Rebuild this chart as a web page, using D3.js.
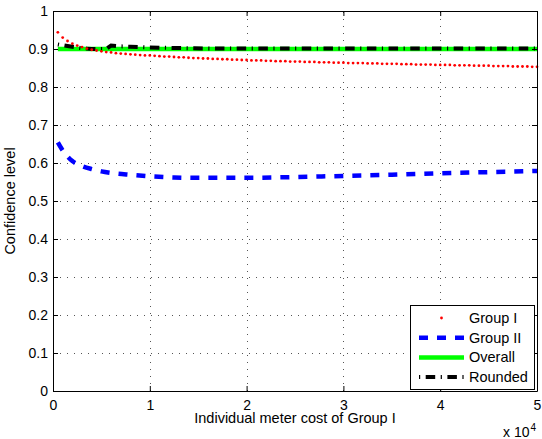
<!DOCTYPE html>
<html>
<head>
<meta charset="utf-8">
<script src="https://cdn.jsdelivr.net/npm/d3@7/dist/d3.min.js"></script>
<style>
  html, body { margin: 0; padding: 0; background: #fff; }
  svg { display: block; font-family: "Liberation Sans", Arial, Helvetica, sans-serif; }
  .axis text { font-size: 14px; fill: #000; }
  .axis path, .axis line { stroke: #000; }
</style>
</head>
<body>
<svg id="chart" width="542" height="439"></svg>
<script>
// Meter cost grid (Group I individual meter cost) used by the dotted series
const costs = d3.range(500, 50001, 500);

// Group I confidence level at each cost in `costs`
const groupI = [
  0.944, 0.930, 0.921, 0.914, 0.909, 0.905, 0.901, 0.898, 0.896, 0.894,
  0.892, 0.891, 0.889, 0.888, 0.887, 0.886, 0.885, 0.884, 0.883, 0.883,
  0.882, 0.881, 0.880, 0.880, 0.879, 0.878, 0.878, 0.877, 0.876, 0.876,
  0.875, 0.875, 0.874, 0.874, 0.873, 0.873, 0.872, 0.872, 0.871, 0.871,
  0.870, 0.870, 0.870, 0.869, 0.869, 0.868, 0.868, 0.868, 0.867, 0.867,
  0.867, 0.866, 0.866, 0.866, 0.865, 0.865, 0.865, 0.864, 0.864, 0.864,
  0.863, 0.863, 0.863, 0.863, 0.862, 0.862, 0.862, 0.861, 0.861, 0.861,
  0.861, 0.860, 0.860, 0.860, 0.859, 0.859, 0.859, 0.859, 0.858, 0.858,
  0.858, 0.858, 0.857, 0.857, 0.857, 0.857, 0.856, 0.856, 0.856, 0.856,
  0.855, 0.855, 0.855, 0.855, 0.854, 0.854, 0.854, 0.854, 0.853, 0.853
];

// Group II confidence level
const groupIICost = [500, 1000, 1500, 2000, 3000, 4000, 5000, 6000, 8000, 10000,
  12500, 15000, 17500, 20000, 25000, 30000, 35000, 40000, 45000, 50000];
const groupII = [0.654, 0.633, 0.617, 0.605, 0.592, 0.584, 0.578, 0.574, 0.569, 0.565,
  0.562, 0.561, 0.561, 0.561, 0.563, 0.566, 0.569, 0.573, 0.576, 0.579];

// Overall confidence level
const overallCost = [500, 50000];
const overall = [0.9, 0.9];

// Confidence level with rounded sample sizes
const roundedCost = [500, 1000, 1500, 2000, 2500, 3000, 3500, 4000, 4500, 5000, 5500,
  6000, 6500, 7000, 8000, 9000, 10000, 12000, 14000, 17000, 20000, 30000, 40000, 50000];
const rounded = [0.912, 0.910, 0.908, 0.906, 0.904, 0.902, 0.901, 0.900, 0.900, 0.900, 0.900,
  0.909, 0.908, 0.907, 0.906, 0.905, 0.904, 0.903, 0.902, 0.901, 0.901, 0.901, 0.901, 0.901];

// Axis ticks
const xTicks = [0, 10000, 20000, 30000, 40000, 50000];
const xTickLabels = ["0", "1", "2", "3", "4", "5"];
const yTicks = [0, 0.1, 0.2, 0.3, 0.4, 0.5, 0.6, 0.7, 0.8, 0.9, 1];
const yTickLabels = ["0", "0.1", "0.2", "0.3", "0.4", "0.5", "0.6", "0.7", "0.8", "0.9", "1"];

const legendNames = ["Group I", "Group II", "Overall", "Rounded"];

const svg = d3.select("#chart");
const plotL = 53, plotR = 537, plotT = 11, plotB = 391;

const x = d3.scaleLinear().domain([0, 50000]).range([plotL, plotR]);
const y = d3.scaleLinear().domain([0, 1]).range([plotB, plotT]);

// Dotted grid
const grid = svg.append("g").attr("shape-rendering", "crispEdges")
  .attr("stroke", "#555").attr("stroke-width", 1).attr("stroke-dasharray", "1,6");
grid.selectAll(".gx").data(xTicks.slice(1, -1)).join("line")
  .attr("x1", d => Math.round(x(d)) + 0.5).attr("x2", d => Math.round(x(d)) + 0.5)
  .attr("y1", plotB).attr("y2", plotT);
grid.selectAll(".gy").data(yTicks.slice(1, -1)).join("line")
  .attr("y1", d => Math.round(y(d)) + 0.5).attr("y2", d => Math.round(y(d)) + 0.5)
  .attr("x1", plotL).attr("x2", plotR);

// Series
const line = d3.line().x(d => x(d[0])).y(d => y(d[1]));
const smooth = d3.line().x(d => x(d[0])).y(d => y(d[1])).curve(d3.curveMonotoneX);

svg.append("path")
  .attr("d", line(d3.zip(overallCost, overall)))
  .attr("fill", "none").attr("stroke", "#00ff00").attr("stroke-width", 4.5);

svg.append("path")
  .attr("d", line(d3.zip(roundedCost, rounded)))
  .attr("fill", "none").attr("stroke", "#000").attr("stroke-width", 4)
  .attr("stroke-dasharray", "1.2,5.5,9.5,5.5");

svg.append("path")
  .attr("d", smooth(d3.zip(groupIICost, groupII)))
  .attr("fill", "none").attr("stroke", "#0000ff").attr("stroke-width", 4.5)
  .attr("stroke-dasharray", "9,9");

svg.append("g").selectAll("circle").data(d3.zip(costs, groupI)).join("circle")
  .attr("cx", d => x(d[0])).attr("cy", d => y(d[1])).attr("r", 1.4)
  .attr("fill", "#ff0000");

// Axes (ticks point inward on all four sides)
svg.append("g").attr("class", "axis").attr("transform", `translate(0,${plotB})`)
  .call(d3.axisBottom(x).tickValues(xTicks).tickFormat((d, i) => xTickLabels[i])
    .tickSizeInner(-5).tickSizeOuter(0).tickPadding(9));
svg.append("g").attr("class", "axis").attr("transform", `translate(${plotL},0)`)
  .call(d3.axisLeft(y).tickValues(yTicks).tickFormat((d, i) => yTickLabels[i])
    .tickSizeInner(-5).tickSizeOuter(0).tickPadding(5));
svg.append("g").attr("class", "axis").attr("transform", `translate(0,${plotT})`)
  .call(d3.axisTop(x).tickValues(xTicks).tickFormat("").tickSizeInner(-5).tickSizeOuter(0));
svg.append("g").attr("class", "axis").attr("transform", `translate(${plotR},0)`)
  .call(d3.axisRight(y).tickValues(yTicks).tickFormat("").tickSizeInner(-5).tickSizeOuter(0));

// Axis labels
svg.append("text").attr("x", (plotL + plotR) / 2).attr("y", 423)
  .attr("text-anchor", "middle").attr("font-size", 14.5).text("Individual meter cost of Group I");
svg.append("text").attr("transform", `translate(15,${(plotT + plotB) / 2}) rotate(-90)`)
  .attr("text-anchor", "middle").attr("font-size", 14.5).text("Confidence level");
const mult = svg.append("text").attr("x", 503).attr("y", 437).attr("font-size", 14);
mult.append("tspan").text("x 10");
mult.append("tspan").attr("font-size", 10).attr("dy", -6).attr("dx", 1).text("4");

// Legend
const lg = svg.append("g");
lg.append("rect").attr("x", 410.5).attr("y", 305.5).attr("width", 124).attr("height", 84)
  .attr("fill", "#fff").attr("stroke", "#000").attr("stroke-width", 1);
const rowY = i => 318 + i * 19.7;
const lx1 = 419, lx2 = 464;
lg.append("circle").attr("cx", (lx1 + lx2) / 2).attr("cy", rowY(0)).attr("r", 1.4).attr("fill", "#ff0000");
lg.append("line").attr("x1", lx1).attr("x2", lx2).attr("y1", rowY(1)).attr("y2", rowY(1))
  .attr("stroke", "#0000ff").attr("stroke-width", 4.5).attr("stroke-dasharray", "9,9");
lg.append("line").attr("x1", lx1).attr("x2", lx2).attr("y1", rowY(2)).attr("y2", rowY(2))
  .attr("stroke", "#00ff00").attr("stroke-width", 4.5);
lg.append("line").attr("x1", lx1).attr("x2", lx2).attr("y1", rowY(3)).attr("y2", rowY(3))
  .attr("stroke", "#000").attr("stroke-width", 4).attr("stroke-dasharray", "1.2,5.5,9.5,5.5");
lg.selectAll(".lt").data(legendNames).join("text")
  .attr("x", 469).attr("y", (d, i) => rowY(i)).attr("dy", "0.35em")
  .attr("font-size", 14.5).text(d => d);
</script>
</body>
</html>
